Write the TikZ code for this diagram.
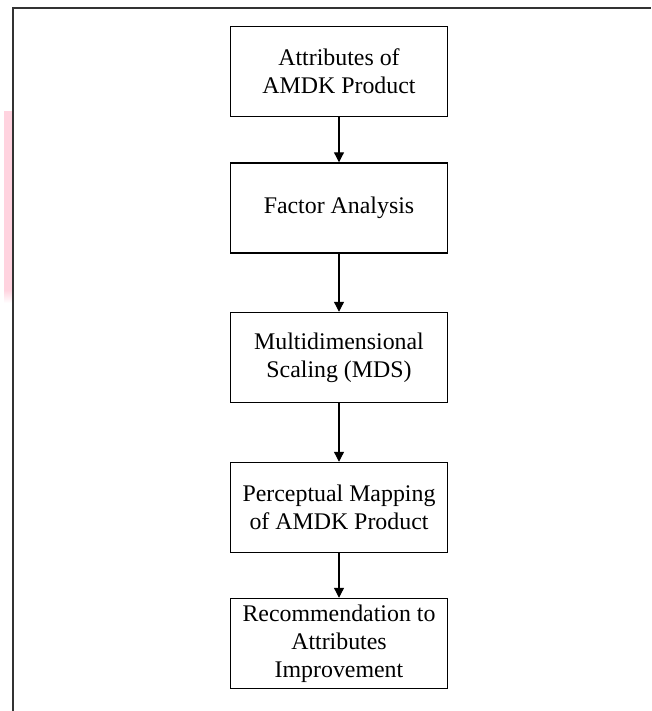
\documentclass[tikz,border=0pt]{standalone}
\usepackage{fontspec}
\setmainfont{Liberation Serif}
\usetikzlibrary{arrows.meta}
\definecolor{pinkstrip}{HTML}{FFD3DF}
\definecolor{framegray}{HTML}{333333}
\begin{document}
\begin{tikzpicture}[x=0.75pt,y=-0.75pt,
  flowbox/.style={draw=black,line width=1.1pt,minimum width=217*0.75pt,minimum height=90*0.75pt,
    inner sep=0pt,align=center,font=\fontsize{17.9}{21}\selectfont},
  flowarrow/.style={-{Triangle[length=7.5pt,width=7.5pt]},line width=0.9pt}]
\useasboundingbox (0,0) rectangle (651,711);
\fill[pinkstrip] (4,111) rectangle (12,290);
\shade[top color=pinkstrip,bottom color=white] (4,290) rectangle (12,303);
\draw[framegray,line width=1.2pt] (13,711) -- (13,8) -- (651,8);
\node[flowbox] (a) at (339,71.5) {Attributes of\\AMDK Product};
\node[flowbox] (b) at (339,208) {Factor Analysis};
\node[flowbox] (c) at (339,357.5) {Multidimensional\\Scaling (MDS)};
\node[flowbox] (d) at (339,507.5) {Perceptual Mapping\\of AMDK Product};
\node[flowbox] (e) at (339,643.5) {Recommendation to\\Attributes\\Improvement};
\draw[flowarrow] (a) -- (b);
\draw[flowarrow] (b) -- (c);
\draw[flowarrow] (c) -- (d);
\draw[flowarrow] (d) -- (e);
\end{tikzpicture}
\end{document}
